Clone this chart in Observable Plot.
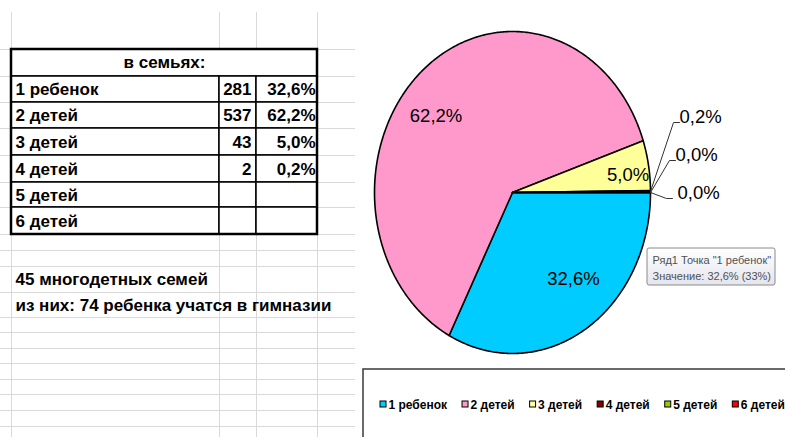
<!DOCTYPE html>
<html><head><meta charset="utf-8">
<script src="https://cdn.jsdelivr.net/npm/d3@7"></script>
<script src="https://cdn.jsdelivr.net/npm/@observablehq/plot@0.6"></script>
<style>html,body{margin:0;padding:0;background:#fff;overflow:hidden}</style>
</head><body><div id="chart"></div>
<script>
// ---------- data ----------
const categories = ["1 ребенок", "2 детей", "3 детей", "4 детей", "5 детей", "6 детей"];
const counts = [281, 537, 43, 2, null, null];
const percents = [32.6, 62.2, 5.0, 0.2, 0, 0];
const colors = ["#00CCFF", "#FF99CC", "#FFFF99", "#800000", "#99CC00", "#FF0000"];
const tableTitle = "в семьях:";
const notes = ["45 многодетных семей", "из них: 74 ребенка учатся в гимназии"];
const seriesName = "Ряд1";

// ---------- helpers / layout ----------
const fmt = v => d3.format(".1f")(v).replace(".", ",") + "%";
const W = 785, H = 437;
const FONT = "'Liberation Sans', Arial, sans-serif";
const colX = [11, 219, 256, 317];
const rowY = [49, 76, 102, 128, 155, 182, 207, 234, 250, 266, 292, 317, 332, 348, 363, 379, 394, 410, 426];
const gridRight = 355;

// table cells
const cells = [{x1: colX[0], x2: colX[3], y1: rowY[0], y2: rowY[1]}];
categories.forEach((c, i) => {
  for (let k = 0; k < 3; k++) cells.push({x1: colX[k], x2: colX[k + 1], y1: rowY[i + 1], y2: rowY[i + 2]});
});
const rowMid = i => (rowY[i + 1] + rowY[i + 2]) / 2 + 0.5;
const titleText = [{x: (colX[0] + colX[3]) / 2, y: (rowY[0] + rowY[1]) / 2, t: tableTitle}];
const nameText = categories.map((c, i) => ({x: colX[0] + 4, y: rowMid(i), t: c}));
const countText = counts.map((v, i) => ({x: colX[2] - 5, y: rowMid(i), t: v == null ? "" : String(v)}));
const pctText = counts.map((v, i) => ({x: colX[3] - 2, y: rowMid(i), t: v == null ? "" : fmt(percents[i])}));
const noteText = notes.map((t, i) => ({x: 15, y: (rowY[9 + i] + rowY[10 + i]) / 2 + 0.5, t}));

// pie
const cx = 512, cy = 192, rx = 138, ry = 161;
const arcs = d3.pie().sort(null).startAngle(Math.PI / 2).endAngle(Math.PI / 2 + 2 * Math.PI)(percents);
const pt = (a, fx = 1, fy = fx) => [cx + rx * fx * Math.sin(a), cy - ry * fy * Math.cos(a)];
const slicePoints = arcs.flatMap((a, i) => {
  const span = a.endAngle - a.startAngle;
  const n = Math.max(1, Math.ceil(span / 0.01));
  const pts = [{key: i, x: cx, y: cy, color: colors[i]}];
  for (let k = 0; k <= n; k++) {
    const [x, y] = pt(a.startAngle + span * k / n);
    pts.push({key: i, x, y, color: colors[i]});
  }
  return pts;
});
const mid = a => (a.startAngle + a.endAngle) / 2;
const bigLabels = arcs.filter(a => a.value >= 1).map(a => {
  const [x, y] = pt(mid(a), 0.85, 0.63);
  return {x, y, t: fmt(a.value)};
});
const smallArcs = arcs.filter(a => a.value < 1);
const smallLabelY = [117, 155, 193];
const smallLabelX = [679, 675, 677];
const smallLineEnd = [679, 675, 672];
const smallLabels = smallArcs.map((a, j) => ({x: smallLabelX[j], y: smallLabelY[j], t: fmt(a.value)}));
const leaderPts = smallArcs.flatMap((a, j) => {
  const [ex, ey] = pt(mid(a));
  const ly = smallLabelY[j] + 5;
  return [
    {key: j, x: ex, y: ey},
    {key: j, x: smallLineEnd[j] - 6, y: ly},
    {key: j, x: smallLineEnd[j], y: ly}
  ];
});

// tooltip
const total = d3.sum(percents);
const tooltipText = [
  `${seriesName} Точка "${categories[0]}"`,
  `Значение: ${fmt(percents[0])} (${d3.format(".0%")(percents[0] / total)})`
];

// legend
const ctx = document.createElement("canvas").getContext("2d");
ctx.font = "bold 12px " + FONT;
let lx = 380;
const legendItems = categories.map((c, i) => {
  const item = {kx: lx, tx: lx + 8, t: c, color: colors[i]};
  lx = item.tx + ctx.measureText(c).width + 15.5;
  return item;
});
const legendY = 404.5;

// ---------- plot ----------
const textOpts = {x: "x", y: "y", text: "t", fontSize: 17, fontWeight: "bold", fill: "black"};
const chart = Plot.plot({
  width: W, height: H, margin: 0,
  x: {type: "identity", axis: null},
  y: {type: "identity", axis: null},
  color: {type: "identity"},
  style: {fontFamily: FONT, background: "#fff"},
  marks: [
    // spreadsheet gridlines
    Plot.ruleY(rowY, {x1: 0, x2: gridRight, stroke: "#d9d9d9", strokeWidth: 1}),
    Plot.ruleX(colX, {y1: 12, y2: H, stroke: "#d9d9d9", strokeWidth: 1}),
    // table
    Plot.rect(cells, {x1: "x1", x2: "x2", y1: "y1", y2: "y2", fill: "white", stroke: "black", strokeWidth: 1.5}),
    Plot.rect([0], {x1: colX[0], x2: colX[3], y1: rowY[0], y2: rowY[7], fill: "none", stroke: "black", strokeWidth: 2.5}),
    Plot.text(titleText, {...textOpts, textAnchor: "middle"}),
    Plot.text(nameText, {...textOpts, textAnchor: "start"}),
    Plot.text(countText, {...textOpts, textAnchor: "end"}),
    Plot.text(pctText, {...textOpts, textAnchor: "end"}),
    Plot.text(noteText, {...textOpts, textAnchor: "start"}),
    // pie
    Plot.line(slicePoints, {x: "x", y: "y", z: "key", fill: "color", stroke: "black", strokeWidth: 1.6, curve: "linear-closed", strokeLinejoin: "round"}),
    Plot.text(bigLabels, {x: "x", y: "y", text: "t", fontSize: 18.5, fill: "black"}),
    Plot.line(leaderPts, {x: "x", y: "y", z: "key", stroke: "#333", strokeWidth: 1}),
    Plot.text(smallLabels, {x: "x", y: "y", text: "t", textAnchor: "start", fontSize: 18.5, fill: "black"}),
    // tooltip
    Plot.rect([0], {x1: 647, x2: 775, y1: 248, y2: 285, fill: "url(#tipGrad)", stroke: "#8a8a8a", strokeWidth: 1, rx: 2}),
    Plot.text(tooltipText, {x: 652, y: (d, i) => 260 + i * 16, text: d => d, textAnchor: "start", fontSize: 11, fill: "#505050"}),
    // legend
    Plot.rect([0], {x1: 363, x2: W + 20, y1: 369, y2: H + 20, fill: "white", stroke: "#3a3a3a", strokeWidth: 1.5}),
    Plot.rect(legendItems, {x1: d => d.kx, x2: d => d.kx + 6, y1: legendY - 3.5, y2: legendY + 2.5, fill: "color", stroke: "black", strokeWidth: 1}),
    Plot.text(legendItems, {x: "tx", y: legendY, text: "t", textAnchor: "start", fontSize: 12, fontWeight: "bold", fill: "black"})
  ]
});
const defs = d3.create("svg:defs");
const g = defs.append("linearGradient").attr("id", "tipGrad").attr("x1", 0).attr("y1", 0).attr("x2", 0).attr("y2", 1);
g.append("stop").attr("offset", "0%").attr("stop-color", "#ffffff");
g.append("stop").attr("offset", "100%").attr("stop-color", "#e4e5ee");
chart.insertBefore(defs.node(), chart.firstChild);
document.getElementById("chart").appendChild(chart);
</script>
</body></html>
